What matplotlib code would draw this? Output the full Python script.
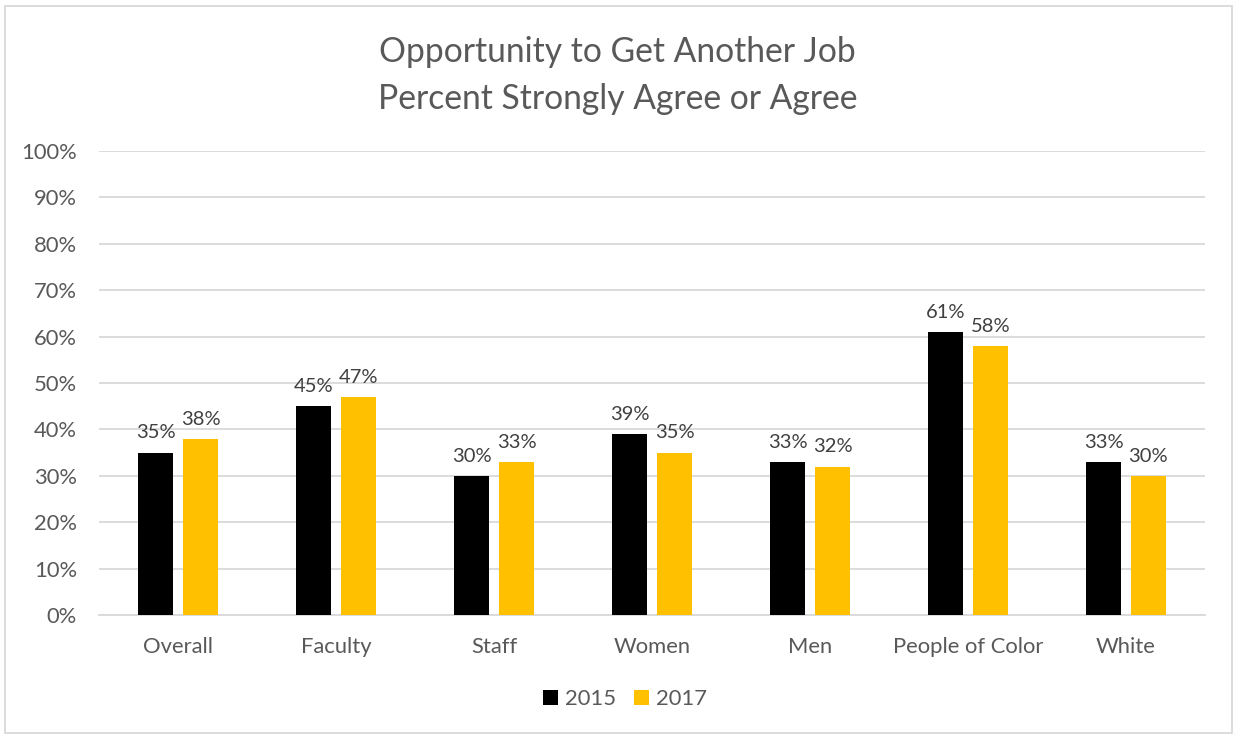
import matplotlib
matplotlib.use("Agg")
import matplotlib.pyplot as plt
from matplotlib.patches import Rectangle
import numpy as np

categories = ["Overall", "Faculty", "Staff", "Women", "Men", "People of Color", "White"]
values_2015 = [35, 45, 30, 39, 33, 61, 33]
values_2017 = [38, 47, 33, 35, 32, 58, 30]
series_labels = ["2015", "2017"]
y_ticks = [0, 10, 20, 30, 40, 50, 60, 70, 80, 90, 100]

plt.rcParams['font.family'] = ['Lato', 'DejaVu Sans']
text_color = "#595959"
grid_color = "#d9d9d9"

fig = plt.figure(figsize=(12.35, 7.36), dpi=100)
ax = fig.add_axes([0.0802, 0.1644, 0.8955, 0.6304])

x = np.arange(len(categories))
width = 0.222
b1 = ax.bar(x - 0.142, values_2015, width, color="#000000", label=series_labels[0], zorder=3)
b2 = ax.bar(x + 0.142, values_2017, width, color="#ffc000", label=series_labels[1], zorder=3)

for bars, vals in ((b1, values_2015), (b2, values_2017)):
    for rect, v in zip(bars, vals):
        ax.annotate(f"{v}%", (rect.get_x() + rect.get_width() / 2, v),
                    xytext=(0, 8), textcoords="offset points",
                    ha="center", va="bottom", fontsize=14.5, color="#404040")

ax.set_xlim(-0.5, len(categories) - 0.5)
ax.set_ylim(0, 100)
ax.set_yticks(y_ticks)
ax.set_yticklabels([f"{t}%" for t in y_ticks])
ax.set_xticks(x)
ax.set_xticklabels(categories)
ax.tick_params(axis="both", length=0, labelsize=15.8, colors=text_color)
ax.tick_params(axis="y", pad=16)
ax.tick_params(axis="x", pad=15.5)
ax.yaxis.grid(True, color=grid_color, linewidth=1.3, zorder=0)
ax.set_axisbelow(True)
for side in ("top", "right", "left"):
    ax.spines[side].set_visible(False)
ax.spines["bottom"].set_color(grid_color)
ax.spines["bottom"].set_linewidth(1.3)

fig.text(0.5, 0.929, "Opportunity to Get Another Job", ha="center", va="center",
         fontsize=24.2, color=text_color)
fig.text(0.5, 0.865, "Percent Strongly Agree or Agree", ha="center", va="center",
         fontsize=24.2, color=text_color)

leg = fig.legend(handles=[b1, b2], labels=series_labels, loc="center",
                 bbox_to_anchor=(0.506, 0.050), ncol=2, frameon=False,
                 fontsize=15.8, handlelength=0.7, handleheight=0.7,
                 handletextpad=0.3, columnspacing=0.8)
for t in leg.get_texts():
    t.set_color(text_color)

fig.patches.append(Rectangle((5 / 1235, 3 / 736), 1227 / 1235, 727 / 736,
                             transform=fig.transFigure, fill=False,
                             edgecolor=grid_color, linewidth=1.3))

fig.savefig("out.png", dpi=100, facecolor="white")
